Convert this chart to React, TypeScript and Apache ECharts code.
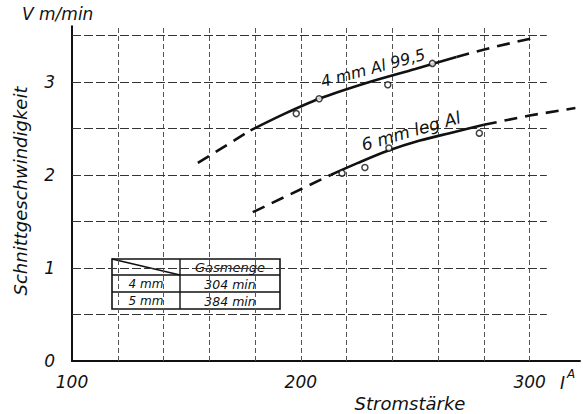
import React, { useEffect, useRef } from "react";
import * as echarts from "echarts";

// ---- data ----
const xTickLabels = [100, 200, 300];
const yTickLabels = [0, 1, 2, 3];
const xGridValues = [120, 140, 160, 180, 200, 220, 240, 260, 280, 300];
const yGridValues = [0.5, 1, 1.5, 2, 2.5, 3, 3.5];

// 4 mm Al 99,5
const al4Solid = [[178, 2.48], [193, 2.66], [208, 2.82], [230, 3.0], [250, 3.14], [268, 3.27]];
const al4DashLow = [[155, 2.13], [178, 2.48]];
const al4DashHigh = [[268, 3.27], [285, 3.38], [301, 3.47]];
const al4Points = [[198, 2.66], [208, 2.82], [238, 2.97], [257.5, 3.2]];

// 6 mm leg Al
const leg6Solid = [[213, 2.0], [225, 2.13], [238, 2.26], [252, 2.37], [265, 2.45], [280, 2.54]];
const leg6DashLow = [[179, 1.6], [213, 2.0]];
const leg6DashHigh = [[280, 2.54], [300, 2.64], [320, 2.72]];
const leg6Points = [[218, 2.02], [228, 2.08], [238.5, 2.29], [278, 2.45]];

const tableHeader = "Gasmenge";
const tableRows = [
  ["4 mm", "304 min"],
  ["5 mm", "384 min"],
];

const X_MIN = 100;
const X_MAX = 322;
const Y_MAX = 3.6;
const GRID_X_END = 307.5;
const GRID_Y_TOP = 3.6;

const FONT = "DejaVu Sans";
const INK = "#111";

export default function App() {
  const ref = useRef<HTMLDivElement>(null);
  useEffect(() => {
    if (!ref.current) return;
    const chart = echarts.init(ref.current, undefined, { renderer: "svg" });

    const vLines = xGridValues.map((v) => [
      { coord: [v, 0] },
      { coord: [v, GRID_Y_TOP] },
    ]);
    const hLines = yGridValues.map((v) => [
      { coord: [X_MIN, v] },
      { coord: [GRID_X_END, v] },
    ]);

    const curve = (data: number[][], dashed: boolean, smooth = 0.3) => ({
      type: "line",
      data,
      smooth: dashed ? 0 : smooth,
      symbol: "none",
      silent: true,
      z: 5,
      lineStyle: {
        color: INK,
        width: 2.6,
        type: dashed ? [13, 8] : "solid",
        cap: "butt",
      },
    });

    const points = (data: number[][]) => ({
      type: "scatter",
      data,
      symbol: "circle",
      symbolSize: 6,
      z: 6,
      itemStyle: { color: "#fff", borderColor: INK, borderWidth: 1.5 },
    });

    const tX = 112, tY = 259, tW = 168, tH = 50, colX = 180;
    const rowYs = [259, 275, 292, 309];
    const tableChildren: any[] = [
      { type: "rect", shape: { x: tX, y: tY, width: tW, height: tH }, style: { fill: "#fff", stroke: INK, lineWidth: 1.6 } },
      { type: "line", shape: { x1: colX, y1: tY, x2: colX, y2: tY + tH }, style: { stroke: INK, lineWidth: 1.4 } },
      { type: "line", shape: { x1: tX, y1: rowYs[1], x2: tX + tW, y2: rowYs[1] }, style: { stroke: INK, lineWidth: 1.4 } },
      { type: "line", shape: { x1: tX, y1: rowYs[2], x2: tX + tW, y2: rowYs[2] }, style: { stroke: INK, lineWidth: 1.4 } },
      { type: "line", shape: { x1: tX, y1: tY, x2: colX, y2: rowYs[1] }, style: { stroke: INK, lineWidth: 1.4 } },
      {
        type: "text",
        style: { text: tableHeader, x: (colX + tX + tW) / 2, y: (rowYs[0] + rowYs[1]) / 2 + 0.5, align: "center", verticalAlign: "middle", font: `italic 13px ${FONT}`, fill: INK },
      },
    ];
    tableRows.forEach((row, i) => {
      const cy = (rowYs[i + 1] + rowYs[i + 2]) / 2 + 0.5;
      tableChildren.push({
        type: "text",
        style: { text: row[0], x: (tX + colX) / 2, y: cy, align: "center", verticalAlign: "middle", font: `italic 12px ${FONT}`, fill: INK },
      });
      tableChildren.push({
        type: "text",
        style: { text: row[1], x: (colX + tX + tW) / 2, y: cy, align: "center", verticalAlign: "middle", font: `italic 12.5px ${FONT}`, fill: INK },
      });
    });

    chart.setOption({
      animation: false,
      backgroundColor: "#fff",
      grid: { left: 72, right: 2.6, top: 26.2, bottom: 53, containLabel: false },
      xAxis: {
        type: "value",
        min: X_MIN,
        max: X_MAX,
        interval: 100,
        axisLine: { show: true, onZero: false, lineStyle: { color: INK, width: 2 } },
        axisTick: { show: false },
        splitLine: { show: false },
        axisLabel: {
          margin: 12,
          fontFamily: FONT,
          fontStyle: "italic",
          fontSize: 17,
          color: INK,
          formatter: (v: number) => (xTickLabels.includes(v) ? String(v) : ""),
        },
      },
      yAxis: {
        type: "value",
        min: 0,
        max: Y_MAX,
        interval: 1,
        axisLine: { show: true, onZero: false, lineStyle: { color: INK, width: 2 } },
        axisTick: { show: false },
        splitLine: { show: false },
        axisLabel: {
          margin: 17,
          fontFamily: FONT,
          fontStyle: "italic",
          fontSize: 17,
          color: INK,
          formatter: (v: number) => (yTickLabels.includes(v) ? String(v) : ""),
        },
      },
      series: [
        {
          type: "line",
          data: [],
          silent: true,
          z: 1,
          markLine: {
            silent: true,
            symbol: "none",
            label: { show: false },
            lineStyle: { color: "#555", width: 1, type: [5, 3] },
            data: vLines,
          },
        },
        {
          type: "line",
          data: [],
          silent: true,
          z: 1,
          markLine: {
            silent: true,
            symbol: "none",
            label: { show: false },
            lineStyle: { color: "#333", width: 1.1, type: [9, 3] },
            data: hLines,
          },
        },
        curve(al4Solid, false),
        curve(al4DashLow, true),
        curve(al4DashHigh, true),
        curve(leg6Solid, false),
        curve(leg6DashLow, true),
        curve(leg6DashHigh, true),
        points(al4Points),
        points(leg6Points),
      ],
      graphic: [
        {
          type: "text",
          left: 22,
          top: 5,
          style: { text: "V m/min", font: `italic 17px ${FONT}`, fill: INK },
        },
        {
          type: "text",
          x: 20,
          y: 191,
          rotation: Math.PI / 2,
          style: { text: "Schnittgeschwindigkeit", x: 0, y: 0, align: "center", verticalAlign: "middle", font: `italic 18px ${FONT}`, fill: INK },
        },
        {
          type: "text",
          x: 410,
          y: 403,
          style: { text: "Stromstärke", x: 0, y: 0, align: "center", verticalAlign: "middle", font: `italic 18px ${FONT}`, fill: INK },
        },
        {
          type: "text",
          x: 560,
          y: 383,
          style: { text: "I", x: 0, y: 0, align: "left", verticalAlign: "middle", font: `italic 17px ${FONT}`, fill: INK },
        },
        {
          type: "text",
          x: 567,
          y: 374,
          style: { text: "A", x: 0, y: 0, align: "left", verticalAlign: "middle", font: `italic 12px ${FONT}`, fill: INK },
        },
        {
          type: "text",
          x: 373,
          y: 68,
          rotation: (15 * Math.PI) / 180,
          z: 10,
          style: { text: "4 mm Al 99,5", x: 0, y: 0, align: "center", verticalAlign: "middle", font: `italic 16px ${FONT}`, fill: INK },
        },
        {
          type: "text",
          x: 411,
          y: 131,
          rotation: (16 * Math.PI) / 180,
          z: 10,
          style: { text: "6 mm leg Al", x: 0, y: 0, align: "center", verticalAlign: "middle", font: `italic 17px ${FONT}`, fill: INK },
        },
        { type: "group", z: 20, children: tableChildren },
      ],
    });
    return () => chart.dispose();
  }, []);
  return (
    <div
      ref={ref}
      style={{ position: "fixed", left: 0, top: 0, width: 583, height: 414, background: "#fff" }}
    />
  );
}
